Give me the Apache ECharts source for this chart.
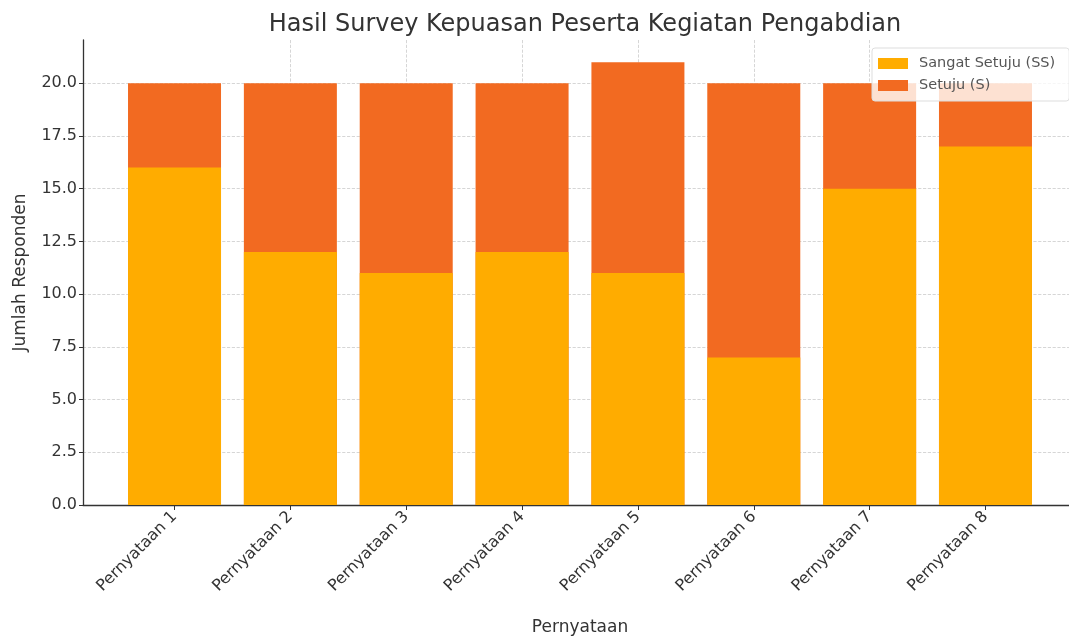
<!DOCTYPE html>
<html>
<head>
<meta charset="utf-8">
<script src="https://cdn.jsdelivr.net/npm/echarts@6/dist/echarts.min.js"></script>
<style>
  html, body { margin: 0; padding: 0; background: #fff; overflow: hidden; }
  #chart { width: 1069px; height: 637px; }
</style>
</head>
<body>
<div id="chart"></div>
<script>
// data
const categories = ['Pernyataan 1', 'Pernyataan 2', 'Pernyataan 3', 'Pernyataan 4',
  'Pernyataan 5', 'Pernyataan 6', 'Pernyataan 7', 'Pernyataan 8']
const sangatSetuju = [16, 12, 11, 12, 11, 7, 15, 17]
const setuju = [4, 8, 9, 8, 10, 13, 5, 3]
const yTicks = ['0.0', '2.5', '5.0', '7.5', '10.0', '12.5', '15.0', '17.5', '20.0']

const font = 'DejaVu Sans'
const catIndex = categories.map((c, i) => i)
// S sits on top of SS: draw the full height in orange, SS over it
const topOfStack = setuju.map((v, i) => [i, sangatSetuju[i] + v])
const bottomOfStack = sangatSetuju.map((v, i) => [i, v])

const myChart = echarts.init(document.getElementById('chart'))
myChart.setOption({
  animation: false,
  textStyle: { fontFamily: font },
  title: {
    text: 'Hasil Survey Kepuasan Peserta Kegiatan Pengabdian',
    left: 580,
    textAlign: 'center',
    top: 8,
    textStyle: { fontFamily: font, fontSize: 24, fontWeight: 'normal', color: '#333' }
  },
  legend: {
    orient: 'vertical',
    left: 872,
    top: 48,
    icon: 'rect',
    itemWidth: 30,
    itemHeight: 11,
    itemGap: 7,
    padding: [8, 14, 8, 6],
    backgroundColor: 'rgba(255,255,255,0.8)',
    borderColor: '#ddd',
    borderWidth: 1,
    borderRadius: 3,
    selectedMode: false,
    textStyle: { fontFamily: font, fontSize: 14.5, color: '#555', padding: [0, 0, 0, 6] },
    data: ['Sangat Setuju (SS)', 'Setuju (S)']
  },
  grid: {
    left: 83,
    top: 40,
    width: 994,
    height: 465,
    containLabel: false,
    outerBoundsMode: 'none'
  },
  xAxis: {
    type: 'value',
    min: -0.79,
    max: 7.79,
    minInterval: 1,
    maxInterval: 1,
    name: 'Pernyataan',
    nameLocation: 'middle',
    nameGap: 114,
    nameTextStyle: { fontFamily: font, fontSize: 17, color: '#333' },
    axisLine: { show: true, onZero: false, lineStyle: { color: '#333', width: 1.3 } },
    axisTick: {
      show: true,
      length: 5,
      lineStyle: { color: '#333' },
      customValues: catIndex
    },
    axisLabel: {
      rotate: 45,
      margin: 9,
      fontSize: 16,
      color: '#333',
      customValues: catIndex,
      formatter: v => categories[v] || ''
    },
    splitLine: {
      show: true,
      showMinLine: false,
      showMaxLine: false,
      lineStyle: { color: '#ccc', type: 'dashed', width: 0.8 }
    }
  },
  yAxis: {
    type: 'value',
    min: 0,
    max: 22.05,
    interval: 2.5,
    name: 'Jumlah Responden',
    nameLocation: 'middle',
    nameGap: 54,
    nameTextStyle: { fontFamily: font, fontSize: 17, color: '#333' },
    axisLine: { show: true, onZero: false, lineStyle: { color: '#333', width: 1.3 } },
    axisTick: { show: true, length: 4, lineStyle: { color: '#333' } },
    axisLabel: {
      fontSize: 16,
      color: '#333',
      margin: 6,
      showMaxLabel: false,
      formatter: v => yTicks[Math.round(v / 2.5)] || ''
    },
    splitLine: {
      show: true,
      showMaxLine: false,
      lineStyle: { color: '#ccc', type: 'dashed', width: 0.8 }
    }
  },
  series: [
    {
      name: 'Setuju (S)',
      type: 'bar',
      barWidth: 93,
      barGap: '-100%',
      itemStyle: { color: '#F26A21' },
      data: topOfStack
    },
    {
      name: 'Sangat Setuju (SS)',
      type: 'bar',
      barWidth: 93,
      barGap: '-100%',
      itemStyle: { color: '#FFAC00' },
      data: bottomOfStack
    }
  ]
})
</script>
</body>
</html>
